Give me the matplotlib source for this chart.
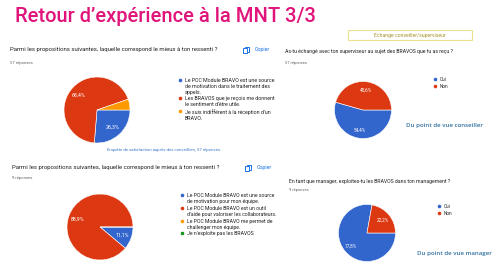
import matplotlib
matplotlib.use('Agg')
import matplotlib.pyplot as plt
from matplotlib.patches import Rectangle

plt.rcParams['font.family'] = ['Roboto', 'DejaVu Sans']

# Google Forms palette
BLUE, RED, ORANGE, GREEN = '#3366cc', '#dc3912', '#ff9900', '#109618'

# --- data ---
q1_labels = ["Le POC Module BRAVO est une source\nde motivation dans le traitement des\nappels.",
             "Les BRAVOS que je reçois me donnent\nle sentiment d'être utile.",
             "Je suis indifférent à la réception d'un\nBRAVO."]
q1_values = [26.3, 68.4, 5.3]

q2_labels = ['Oui', 'Non']
q2_values = [54.4, 45.6]

q3_labels = ["Le POC Module BRAVO est une source\nde motivation pour mon équipe.",
             "Le POC Module BRAVO est un outil\nd'aide pour valoriser les collaborateurs.",
             "Le POC Module BRAVO me permet de\nchallenger mon équipe.",
             "Je n'exploite pas les BRAVOS"]
q3_values = [11.1, 88.9, 0.0, 0.0]

q4_labels = ['Oui', 'Non']
q4_values = [77.8, 22.2]

W, H = 500, 269
fig = plt.figure(figsize=(W / 100, H / 100), dpi=100)
fig.patch.set_facecolor('white')

# overlay axes in pixel coordinates for all the slide text
ax = fig.add_axes([0, 0, 1, 1])
ax.set_xlim(0, W)
ax.set_ylim(H, 0)
ax.axis('off')


def pct(p):
    return f"{p:.1f}%".replace('.', ',') if p >= 6 else ''


def draw_pie(cx, cy, r, values, colors, size=3.8):
    pax = fig.add_axes([(cx - r) / W, (H - cy - r) / H, 2 * r / W, 2 * r / H])
    pax.pie(values, colors=colors, startangle=0, counterclock=False,
            autopct=pct, pctdistance=0.72,
            wedgeprops=dict(edgecolor='white', linewidth=0.4),
            textprops=dict(color='white', fontsize=size))
    pax.set_xlim(-1, 1)
    pax.set_ylim(-1, 1)
    pax.axis('off')
    return pax


def legend(x, ys, labels, colors, size=3.8):
    for y, lab, c in zip(ys, labels, colors):
        ax.plot(x, y, 'o', color=c, markersize=2.6, markeredgewidth=0)
        ax.text(x + 5, y - 1.7, lab, fontsize=size, color='#202124', va='top', ha='left',
                linespacing=1.2)


def copier(x, y):
    ax.add_patch(Rectangle((x + 1.5, y - 3.2), 4, 5, fill=False, edgecolor='#1a73e8', linewidth=0.7))
    ax.add_patch(Rectangle((x, y - 1.7), 4, 5, facecolor='white', edgecolor='#1a73e8', linewidth=0.7))
    ax.text(x + 12, y, 'Copier', fontsize=3.8, color='#1a73e8', va='center', ha='left')


# title
ax.text(15, 16, 'Retour d’expérience à la MNT 3/3', fontsize=14.5, color='#e0147a',
        fontweight='medium', va='center', ha='left')

# yellow box
ax.add_patch(Rectangle((348, 29.5), 124, 10.5, fill=False, edgecolor='#ece08f', linewidth=0.8))
ax.text(410, 35, 'Echange conseiller/superviseur', fontsize=3.7, color='#a8942a',
        va='center', ha='center')

# --- top left ---
ax.text(10, 49, 'Parmi les propositions suivantes, laquelle correspond le mieux à ton ressenti ?',
        fontsize=4.3, color='#202124', va='center', ha='left')
ax.text(10, 63, '57 réponses', fontsize=3.0, color='#5f6368', va='center', ha='left')
copier(243, 50)
draw_pie(97, 110, 33, q1_values, [BLUE, RED, ORANGE])
legend(180, [80, 98, 111], q1_labels, [BLUE, RED, ORANGE])
ax.text(164, 150, 'Enquête de satisfaction auprès des conseillers, 57 réponses.', fontsize=3.1,
        color='#3c78c8', va='center', ha='center')

# --- top right ---
ax.text(285, 52, 'As-tu échangé avec ton superviseur au sujet des BRAVOS que tu as reçu ?',
        fontsize=3.7, color='#202124', va='center', ha='left')
ax.text(285, 63, '57 réponses', fontsize=2.9, color='#5f6368', va='center', ha='left')
draw_pie(363, 110, 28.5, q2_values, [BLUE, RED], size=3.4)
legend(435, [79, 86], q2_labels, [BLUE, RED], size=3.3)
ax.text(444, 126, 'Du point de vue conseiller', fontsize=4.4, color='#2f6f9f',
        fontweight='semibold', va='center', ha='center', family=['Open Sans', 'DejaVu Sans'])

# --- bottom left ---
ax.text(12, 168, 'Parmi les propositions suivantes, laquelle correspond le mieux à ton ressenti ?',
        fontsize=4.3, color='#202124', va='center', ha='left')
ax.text(12, 178, '9 réponses', fontsize=3.0, color='#5f6368', va='center', ha='left')
copier(245, 168)
draw_pie(100, 227, 33, q3_values, [BLUE, RED, ORANGE, GREEN])
legend(182, [195, 208, 221, 233], q3_labels, [BLUE, RED, ORANGE, GREEN], size=3.7)

# --- bottom right ---
ax.text(289, 181, 'En tant que manager, exploites-tu les BRAVOS dans ton management ?',
        fontsize=3.7, color='#202124', va='center', ha='left')
ax.text(289, 190, '9 réponses', fontsize=2.9, color='#5f6368', va='center', ha='left')
draw_pie(367, 233, 28.5, q4_values, [BLUE, RED], size=3.4)
legend(439, [206, 213], q4_labels, [BLUE, RED], size=3.3)
ax.text(454, 253, 'Du point de vue manager', fontsize=4.4, color='#2f6f9f',
        fontweight='semibold', va='center', ha='center', family=['Open Sans', 'DejaVu Sans'])

fig.savefig('out.png', dpi=100, facecolor='white')
